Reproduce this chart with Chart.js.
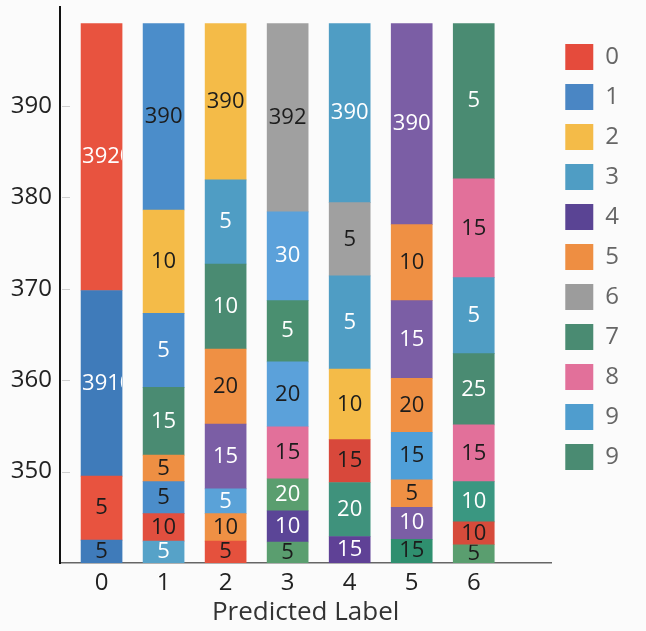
<!DOCTYPE html>
<html>
<head>
<meta charset="utf-8">
<script src="https://cdn.jsdelivr.net/npm/chart.js@4.4.1/dist/chart.umd.min.js"></script>
<style>
  html, body { margin: 0; padding: 0; background: #fbfbfb; }
  #wrap { width: 646px; height: 631px; }
</style>
</head>
<body>
<div id="wrap"><canvas id="myChart"></canvas></div>
<script>
// predicted label columns
const predictedLabels = ['0', '1', '2', '3', '4', '5', '6'];
const yTicks = [350, 360, 370, 380, 390];
const yBase = 340;

// top of every segment, bottom to top, one list per column
const segTops = [
    [342.5, 349.5, 369.8, 399],
    [342.4, 345.4, 348.9, 351.8, 359.2, 367.3, 378.6, 399],
    [342.4, 345.4, 348.1, 355.2, 363.4, 372.7, 381.9, 399],
    [342.3, 345.7, 349.2, 354.9, 362.0, 368.7, 378.4, 399],
    [342.9, 348.8, 353.5, 361.2, 371.4, 379.4, 399],
    [342.6, 346.1, 349.1, 354.3, 360.2, 368.7, 377.0, 399],
    [342.0, 344.5, 348.9, 355.1, 362.9, 371.2, 382.0, 399]
];

// numbers printed in the segments
const segTexts = [
    ['5', '5', '3910', '3920'],
    ['5', '10', '5', '5', '15', '5', '10', '390'],
    ['5', '10', '5', '15', '20', '10', '5', '390'],
    ['5', '10', '20', '15', '20', '5', '30', '392'],
    ['15', '20', '15', '10', '5', '5', '390'],
    ['15', '10', '5', '15', '20', '15', '10', '390'],
    ['5', '10', '10', '15', '25', '5', '15', '5']
];

// d = dark text, w = white text
const segTextTone = [
    ['d', 'd', 'w', 'w'],
    ['w', 'd', 'd', 'd', 'w', 'w', 'd', 'd'],
    ['d', 'd', 'w', 'w', 'd', 'w', 'w', 'd'],
    ['d', 'w', 'w', 'd', 'd', 'w', 'w', 'd'],
    ['w', 'w', 'd', 'd', 'w', 'd', 'w'],
    ['d', 'w', 'd', 'd', 'd', 'w', 'd', 'w'],
    ['d', 'd', 'w', 'd', 'w', 'w', 'd', 'w']
];

const segColors = [
    ['#3f7bba', '#e8533f', '#3f7bba', '#e8533f'],
    ['#56a2c8', '#e14f3f', '#4b8dca', '#ee8f43', '#4a8b72', '#4b8dca', '#f4bb48', '#4b8dca'],
    ['#e5513d', '#ef9044', '#5aa2d8', '#7b5ea5', '#ef9044', '#4a8b72', '#4f9dc4', '#f4bb48'],
    ['#5a9e6f', '#5b4597', '#5a9e6f', '#e2709a', '#5ba1da', '#4a8f70', '#5ba1da', '#a0a0a0'],
    ['#5f4196', '#3f927c', '#d8483b', '#f4bb48', '#4f9dc4', '#a0a0a0', '#4f9dc4'],
    ['#2f8f6f', '#7b5ea5', '#ef9044', '#4f9fd8', '#ef9044', '#7b5ea5', '#ef9044', '#7b5ea5'],
    ['#5a9e6f', '#d64b3b', '#3a9781', '#e2709a', '#4a8b72', '#4f9dc4', '#e2709a', '#4a8b72']
];

const legendLabels = ['0', '1', '2', '3', '4', '5', '6', '7', '8', '9', '9'];
const legendColors = ['#e54b3c', '#4a86c4', '#f4bb48', '#4f9dc4', '#5a4494', '#ee8e42',
    '#9c9c9c', '#4a8b72', '#e2709a', '#4f9dce', '#4a8b72'];

const FONT = "'Open Sans', 'Noto Sans', sans-serif";

// one dataset per stack level
const levels = Math.max(...segTops.map(t => t.length));
const datasets = [];
for (let k = 0; k < levels; k++) {
    const data = [];
    segTops.forEach((tops, i) => {
        if (tops[k] == null) return;
        data.push({x: i, y: [k === 0 ? yBase : tops[k - 1], tops[k]]});
    });
    datasets.push({
        label: 'level ' + k,
        data: data,
        backgroundColor: ctx => segColors[ctx.raw.x][k],
        borderWidth: 0,
        barThickness: 41
    });
}

const segmentText = {
    id: 'segmentText',
    afterDatasetsDraw(chart) {
        const ctx = chart.ctx;
        const area = chart.chartArea;
        ctx.save();
        ctx.font = '22px ' + FONT;
        ctx.textBaseline = 'middle';
        chart.data.datasets.forEach((ds, k) => {
            chart.getDatasetMeta(k).data.forEach((el, j) => {
                const i = ds.data[j].x;
                const text = segTexts[i][k];
                const left = el.x - el.width / 2;
                const right = el.x + el.width / 2;
                const top = Math.max(Math.min(el.y, el.base), area.top);
                const bottom = Math.min(Math.max(el.y, el.base), area.bottom);
                const w = ctx.measureText(text).width;
                ctx.save();
                ctx.beginPath();
                ctx.rect(left, top, right - left, bottom - top);
                ctx.clip();
                ctx.fillStyle = segTextTone[i][k] === 'w' ? '#ffffff' : '#1c1c1c';
                if (w > el.width) {
                    ctx.textAlign = 'left';
                    ctx.fillText(text, left + 1, (top + bottom) / 2);
                } else {
                    ctx.textAlign = 'center';
                    ctx.fillText(text, el.x, (top + bottom) / 2);
                }
                ctx.restore();
            });
        });
        ctx.restore();
    }
};

// short tick marks on the inner side of the y axis
const innerTicks = {
    id: 'innerTicks',
    afterDraw(chart) {
        const ctx = chart.ctx;
        const y = chart.scales.y;
        ctx.save();
        ctx.strokeStyle = '#cfcfcf';
        ctx.lineWidth = 1;
        yTicks.forEach(v => {
            const py = Math.round(y.getPixelForValue(v)) + 0.5;
            ctx.beginPath();
            ctx.moveTo(y.right + 2, py);
            ctx.lineTo(y.right + 10, py);
            ctx.stroke();
        });
        ctx.restore();
    }
};

const ctx = document.getElementById('myChart');
new Chart(ctx, {
    type: 'bar',
    data: {datasets: datasets},
    plugins: [segmentText, innerTicks],
    options: {
        responsive: true,
        maintainAspectRatio: false,
        animation: false,
        layout: {padding: {left: 0, right: 17, top: 0, bottom: 0}},
        scales: {
            x: {
                type: 'linear',
                stacked: true,
                offset: false,
                min: -0.67,
                max: 7.25,
                grid: {display: false, drawTicks: false},
                border: {display: true, color: '#666666', width: 1.5},
                afterBuildTicks: scale => {
                    scale.ticks = predictedLabels.map((l, i) => ({value: i}));
                },
                afterFit: scale => { scale.height = 68; },
                ticks: {
                    font: {family: FONT, size: 24},
                    color: '#222222',
                    padding: 6,
                    maxRotation: 0,
                    callback: v => predictedLabels[v]
                },
                title: {
                    display: true,
                    text: 'Predicted Label',
                    font: {family: FONT, size: 26},
                    color: '#333333',
                    padding: {top: 0, bottom: 3}
                }
            },
            y: {
                min: yBase,
                max: 400.8,
                grid: {display: false, drawTicks: false},
                border: {display: true, color: '#111111', width: 2},
                afterBuildTicks: scale => {
                    scale.ticks = yTicks.map(v => ({value: v}));
                },
                afterFit: scale => {
                    scale.width = 60;
                    scale.paddingTop = 7;
                },
                ticks: {
                    font: {family: FONT, size: 24},
                    color: '#222222',
                    padding: 8
                }
            }
        },
        plugins: {
            tooltip: {enabled: false},
            legend: {
                position: 'right',
                align: 'start',
                fullSize: false,
                onClick: null,
                title: {
                    display: true,
                    text: ' ',
                    font: {size: 10},
                    padding: {top: 0, bottom: 11}
                },
                labels: {
                    boxWidth: 28,
                    boxHeight: 26,
                    padding: 14,
                    color: '#222222',
                    font: {family: FONT, size: 24},
                    generateLabels: () => legendLabels.map((t, i) => ({
                        text: t,
                        fillStyle: legendColors[i],
                        strokeStyle: legendColors[i],
                        lineWidth: 0,
                        hidden: false,
                        datasetIndex: 0
                    }))
                }
            }
        }
    }
});
</script>
</body>
</html>
